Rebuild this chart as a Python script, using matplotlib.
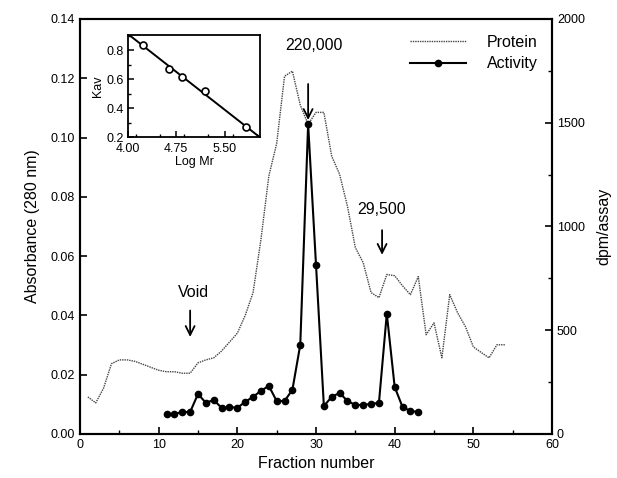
import matplotlib
matplotlib.use("Agg")
import matplotlib.pyplot as plt
import numpy as np
from matplotlib.ticker import MultipleLocator, FormatStrFormatter

plt.rcParams['font.family'] = ['Liberation Sans', 'DejaVu Sans']

# Protein (absorbance 280 nm), fractions 1..54
protein_fraction = list(range(1, 55))
protein_abs = [0.0125, 0.0105, 0.0155, 0.0237, 0.025, 0.025, 0.0245, 0.0235, 0.0225, 0.0215,
               0.021, 0.021, 0.0205, 0.0205, 0.024, 0.025, 0.0257, 0.028, 0.031, 0.034,
               0.040, 0.0477, 0.0656, 0.087, 0.098, 0.1207, 0.1224, 0.111, 0.1045, 0.1085,
               0.1085, 0.0937, 0.0876, 0.0768, 0.0629, 0.0578, 0.0477, 0.046, 0.0538, 0.0534,
               0.050, 0.047, 0.0531, 0.0335, 0.0375, 0.0257, 0.047, 0.0409, 0.0362, 0.0294,
               0.0275, 0.0257, 0.0301, 0.0301]

# Activity (dpm/assay), fractions 11..43
activity_fraction = list(range(11, 44))
activity_dpm = [97, 97, 106, 106, 193, 150, 164, 126, 130, 126,
                155, 179, 208, 232, 159, 159, 213, 430, 1493, 816,
                135, 179, 198, 159, 140, 140, 145, 150, 580, 227,
                130, 111, 106]

# Inset calibration: Log Mr vs Kav
inset_logmr = [4.233, 4.636, 4.833, 5.195, 5.826]
inset_kav = [0.839, 0.673, 0.613, 0.518, 0.269]

W, H = 617, 478
fig = plt.figure(figsize=(W / 100, H / 100), dpi=100)
ax = fig.add_axes([80 / W, (H - 434) / H, 472 / W, 415 / H])
ax2 = ax.twinx()

p_line, = ax.plot(protein_fraction, protein_abs, color='#444444', lw=1.0,
                  linestyle=(0, (1, 0.7)), label='Protein')
a_line, = ax2.plot(activity_fraction, activity_dpm, color='black', lw=1.5,
                   marker='o', markersize=4.5, label='Activity')

ax.set_xlim(0, 60)
ax.set_ylim(0, 0.14)
ax2.set_ylim(0, 2000)
ax.xaxis.set_major_locator(MultipleLocator(10))
ax.xaxis.set_minor_locator(MultipleLocator(5))
ax.yaxis.set_major_locator(MultipleLocator(0.02))
ax.yaxis.set_major_formatter(FormatStrFormatter('%.2f'))
ax2.yaxis.set_major_locator(MultipleLocator(500))
ax2.yaxis.set_minor_locator(MultipleLocator(250))

for a in (ax, ax2):
    a.tick_params(direction='in', which='both', labelsize=9)
    a.tick_params(which='major', length=5, width=1.2)
    a.tick_params(which='minor', length=3, width=1)
    for s in a.spines.values():
        s.set_linewidth(1.5)

ax.set_xlabel('Fraction number', fontsize=11.5)
ax.set_ylabel('Absorbance (280 nm)', fontsize=11.5, labelpad=8)
ax2.set_ylabel('dpm/assay', fontsize=11.5, labelpad=8)

# Annotations with arrows
arrow_kw = dict(arrowstyle='->', color='black', lw=1.3, mutation_scale=16)
ax.annotate('', xy=(29, 0.1050), xytext=(29, 0.1190), arrowprops=arrow_kw)
ax.text(29.8, 0.1309, '220,000', ha='center', va='center', fontsize=11.5)
ax.annotate('', xy=(38.4, 0.0595), xytext=(38.4, 0.0697), arrowprops=arrow_kw)
ax.text(38.3, 0.0757, '29,500', ha='center', va='center', fontsize=11.5)
ax.annotate('', xy=(14.0, 0.0318), xytext=(14.0, 0.0426), arrowprops=arrow_kw)
ax.text(14.4, 0.0477, 'Void', ha='center', va='center', fontsize=11.5)

leg = ax.legend(handles=[p_line, a_line], loc='upper left',
                bbox_to_anchor=(0.699, 0.962), frameon=False, fontsize=11.5,
                borderaxespad=0, borderpad=0, handlelength=3.5,
                handletextpad=1.3, labelspacing=0.4)

# Inset
axi = fig.add_axes([128 / W, (H - 137) / H, 132 / W, 102 / H])
axi.plot(inset_logmr, inset_kav, linestyle='none', marker='o', markersize=5,
         markerfacecolor='white', markeredgecolor='black', markeredgewidth=1.2, zorder=3)
coef = np.polyfit(inset_logmr, inset_kav, 1)
xs = np.array([4.0, 6.05])
axi.plot(xs, np.polyval(coef, xs), color='black', lw=1.4)
axi.set_xlim(4.0, 6.05)
axi.set_ylim(0.2, 0.905)
axi.set_xticks([4.0, 4.75, 5.5])
axi.set_xticklabels(['4.00', '4.75', '5.50'])
axi.xaxis.set_minor_locator(MultipleLocator(0.375))
axi.set_yticks([0.2, 0.4, 0.6, 0.8])
axi.set_yticklabels(['0.2', '0.4', '0.6', '0.8'])
axi.yaxis.set_minor_locator(MultipleLocator(0.1))
axi.tick_params(direction='in', which='both', labelsize=9)
axi.tick_params(axis='x', pad=4)
axi.tick_params(axis='y', pad=3)
axi.tick_params(which='major', length=4, width=1.1)
axi.tick_params(which='minor', length=2.5, width=1)
for s in axi.spines.values():
    s.set_linewidth(1.3)
axi.set_xlabel('Log Mr', fontsize=9, labelpad=1)
axi.set_ylabel('Kav', fontsize=9, labelpad=2)

fig.savefig('out.png', dpi=100)
